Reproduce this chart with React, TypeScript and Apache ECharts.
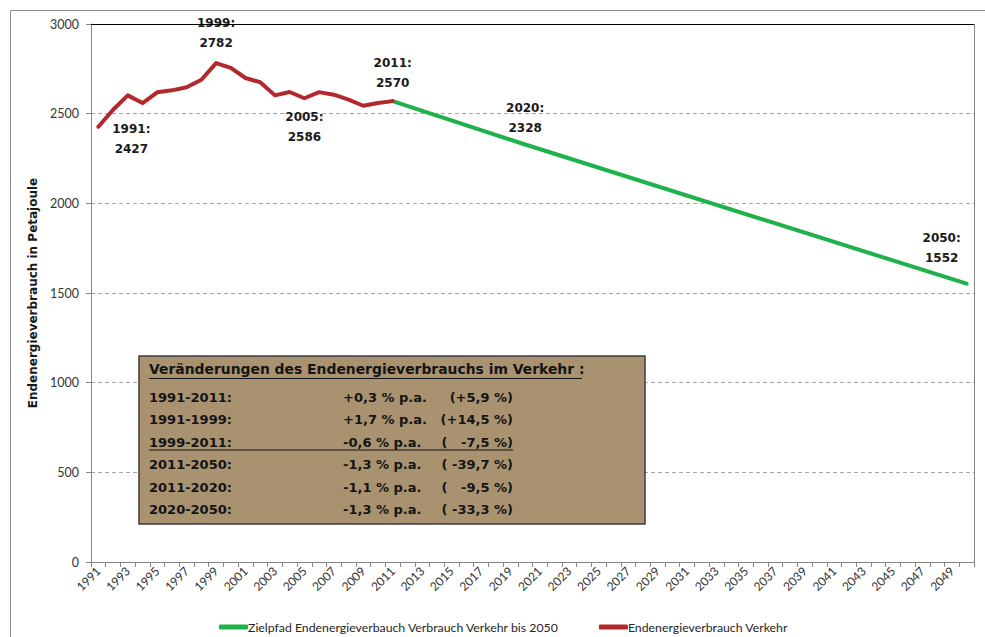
import React, { useEffect, useRef } from "react";
import * as echarts from "echarts";

const years: string[] = Array.from({ length: 60 }, (_, i) => String(1991 + i));

const historyName = "Endenergieverbrauch Verkehr";
const targetName = "Zielpfad Endenergieverbauch Verbrauch Verkehr bis 2050";

// Endenergieverbrauch Verkehr 1991-2011 (PJ)
const historyValues: number[] = [
  2427, 2522, 2602, 2559, 2619, 2630, 2647, 2689, 2782, 2755, 2699, 2675, 2602,
  2621, 2586, 2620, 2606, 2578, 2544, 2559, 2570,
];

// Zielpfad: anchor points (straight line between them)
const targetYears: string[] = ["2011", "2020", "2050"];
const targetValues: number[] = [2570, 2328, 1552];

const yTicks = { min: 0, max: 3000, interval: 500 };

const boxTitle = "Veränderungen des Endenergieverbrauchs im Verkehr :";
const boxPeriods: string[] = ["1991-2011:", "1991-1999:", "1999-2011:", "2011-2050:", "2011-2020:", "2020-2050:"];
const boxRates: string[] = ["+0,3 % p.a.", "+1,7 % p.a.", "-0,6 % p.a.", "-1,3 % p.a.", "-1,1 % p.a.", "-1,3 % p.a."];
const boxTotals: string[] = ["(+5,9 %)", "(+14,5 %)", "(   -7,5 %)", "( -39,7 %)", "(   -9,5 %)", "( -33,3 %)"];

// label placement (style only)
const historyLabelStyle: Record<string, { position: string; offset: number[] }> = {
  "1991": { position: "bottom", offset: [33, -13] },
  "1999": { position: "top", offset: [0, -5] },
  "2005": { position: "bottom", offset: [0, 4] },
  "2011": { position: "top", offset: [0, -3] },
};
const targetLabelStyle: Record<string, { position: string; offset: number[] }> = {
  "2020": { position: "top", offset: [0, -2] },
  "2050": { position: "top", offset: [-25, -11] },
};

const FONT = "Lato, 'Open Sans', sans-serif";
const BOLDFONT = "'DejaVu Sans', 'Open Sans', sans-serif";
const RED = "#b3282d";
const GREEN = "#1fb24a";

export default function App() {
  const ref = useRef<HTMLDivElement>(null);

  useEffect(() => {
    if (!ref.current) return;
    const chart = echarts.init(ref.current, undefined, { renderer: "svg" });

    const labelBase = {
      show: true,
      fontFamily: BOLDFONT,
      fontWeight: "bold",
      fontSize: 12,
      lineHeight: 20,
      color: "#1a1a1a",
      formatter: (p: any) => `${p.name}:\n${p.value}`,
    };

    const historyData = years.map((y, i) => {
      if (i >= historyValues.length) return null;
      const v = historyValues[i];
      const ls = historyLabelStyle[y];
      if (ls) return { value: v, label: { ...labelBase, position: ls.position, offset: ls.offset } };
      return { value: v, label: { show: false } };
    });

    const targetData = years.map((y) => {
      const idx = targetYears.indexOf(y);
      if (idx < 0) return null;
      const v = targetValues[idx];
      const ls = targetLabelStyle[y];
      if (ls) return { value: v, label: { ...labelBase, position: ls.position, offset: ls.offset } };
      return { value: v, label: { show: false } };
    });

    const gridLeft = 91;
    const gridTop = 24;
    const gridRight = 11;
    const gridBottom = 75;
    const W = 985;

    const bx = 139, by = 356, bw = 506, bh = 168;
    const col1 = 149, col2 = 343, col3 = 513;
    const rowY = [397, 419.5, 442, 464.5, 487, 509.5];
    const boxText = (x: number, y: number, text: string, align = "left", size = 13) => ({
      type: "text",
      x,
      y,
      style: {
        text,
        fontFamily: BOLDFONT,
        fontWeight: "bold",
        fontSize: size,
        fill: "#141414",
        textAlign: align,
        textVerticalAlign: "middle",
      },
      z: 20,
    });

    const graphics: any[] = [
      {
        type: "rect",
        shape: { x: 10.5, y: 10.5, width: 1000, height: 700 },
        style: { fill: "none", stroke: "#8c8c8c", lineWidth: 1 },
        silent: true,
        z: 1,
      },
      {
        type: "line",
        shape: { x1: gridLeft, y1: gridTop + 0.5, x2: W - gridRight, y2: gridTop + 0.5 },
        style: { stroke: "#000", lineWidth: 1 },
        z: 5,
      },
      {
        type: "line",
        shape: { x1: W - gridRight + 0.5, y1: gridTop, x2: W - gridRight + 0.5, y2: 637 - gridBottom },
        style: { stroke: "#868686", lineWidth: 1 },
        z: 5,
      },
      {
        type: "rect",
        shape: { x: bx, y: by, width: bw, height: bh },
        style: { fill: "#a89270", stroke: "#3c3c3c", lineWidth: 1.5 },
        z: 15,
      },
      boxText(col1, 369, boxTitle, "left", 13.9),
      {
        type: "line",
        shape: { x1: col1, y1: 378.5, x2: 582, y2: 378.5 },
        style: { stroke: "#141414", lineWidth: 1.2 },
        z: 20,
      },
      {
        type: "line",
        shape: { x1: col1, y1: 450, x2: col3, y2: 450 },
        style: { stroke: "#141414", lineWidth: 1.2 },
        z: 20,
      },
    ];
    boxPeriods.forEach((p, i) => {
      graphics.push(boxText(col1, rowY[i], p));
      graphics.push(boxText(col2, rowY[i], boxRates[i]));
      graphics.push(boxText(col3, rowY[i], boxTotals[i], "right"));
    });

    chart.setOption({
      animation: false,
      backgroundColor: "#ffffff",
      textStyle: { fontFamily: FONT },
      grid: { left: gridLeft, right: gridRight, top: gridTop, bottom: gridBottom, containLabel: false },
      legend: {
        data: [targetName, historyName],
        left: 214,
        top: 616,
        itemWidth: 29,
        itemHeight: 5,
        itemGap: 40,
        icon: "roundRect",
        textStyle: { fontFamily: FONT, fontSize: 12.3, color: "#262626", padding: [0, 0, 0, -5] },
      },
      xAxis: {
        type: "category",
        data: years,
        boundaryGap: true,
        axisLine: { lineStyle: { color: "#868686", width: 1 } },
        axisTick: { show: true, interval: 0, length: 5, lineStyle: { color: "#868686" } },
        axisLabel: {
          interval: 1,
          rotate: 45,
          fontFamily: FONT,
          fontSize: 12,
          color: "#333",
          margin: 7,
        },
        splitLine: { show: false },
      },
      yAxis: {
        type: "value",
        min: yTicks.min,
        max: yTicks.max,
        interval: yTicks.interval,
        name: "Endenergieverbrauch in Petajoule",
        nameLocation: "middle",
        nameGap: 52,
        nameTextStyle: { fontFamily: BOLDFONT, fontWeight: "bold", fontSize: 12, color: "#1a1a1a" },
        axisLine: { show: true, lineStyle: { color: "#868686", width: 1 } },
        axisTick: { show: true, length: 5, lineStyle: { color: "#868686" } },
        axisLabel: {
          fontFamily: FONT,
          fontSize: 12.5,
          color: "#333",
          margin: 12,
          formatter: (v: number) => String(v),
        },
        splitLine: { show: true, lineStyle: { color: "#a6a6a6", type: [4, 3], width: 1 } },
      },
      series: [
        {
          name: targetName,
          type: "line",
          data: targetData,
          connectNulls: true,
          showAllSymbol: true,
          symbol: "circle",
          symbolSize: 0,
          lineStyle: { color: GREEN, width: 4, cap: "round" },
          itemStyle: { color: GREEN },
          z: 3,
        },
        {
          name: historyName,
          type: "line",
          data: historyData,
          showAllSymbol: true,
          symbol: "circle",
          symbolSize: 0,
          lineStyle: { color: RED, width: 4, cap: "round", join: "round" },
          itemStyle: { color: RED },
          z: 4,
        },
      ],
      graphic: graphics,
    });

    return () => chart.dispose();
  }, []);

  return (
    <div
      ref={ref}
      style={{ position: "absolute", left: 0, top: 0, width: 985, height: 637 }}
    />
  );
}
